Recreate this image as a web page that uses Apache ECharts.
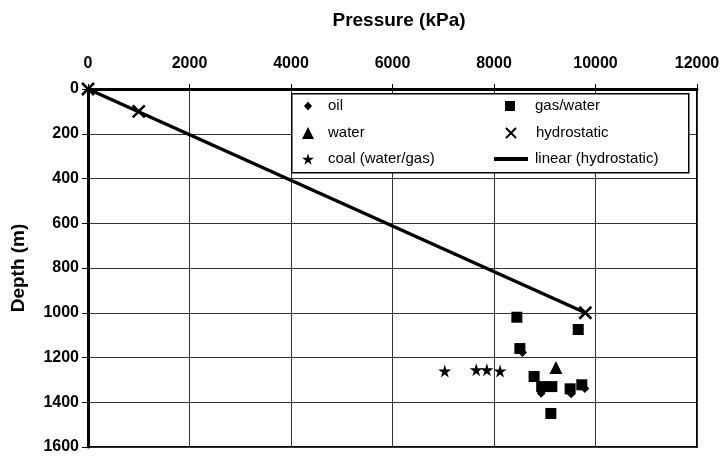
<!DOCTYPE html>
<html>
<head>
<meta charset="utf-8">
<script src="https://cdn.jsdelivr.net/npm/echarts@6/dist/echarts.min.js"></script>
<style>html,body{margin:0;padding:0;background:#fff;}#c{width:726px;height:459px;}</style>
</head>
<body>
<div id="c"></div>
<script>
const xTicks = [0, 2000, 4000, 6000, 8000, 10000, 12000];
const yTicks = [0, 200, 400, 600, 800, 1000, 1200, 1400, 1600];
const oil = [[8560, 1178], [8930, 1360], [9520, 1362], [9790, 1338]];
const gasWater = [[8450, 1020], [9660, 1075], [8510, 1160], [8790, 1285], [8940, 1330], [9140, 1330], [9500, 1340], [9730, 1322], [9120, 1450]];
const water = [[9220, 1245]];
const coal = [[7030, 1260], [7650, 1255], [7860, 1255], [8120, 1260]];
const hydrostatic = [[0, 0], [1000, 100], [9800, 1000]];
const linearHydro = [[0, 0], [9800, 1000]];

const STAR = 'path://M50,0L61,35L98,35L68,57L79,91L50,70L21,91L32,57L2,35L39,35Z';
const XMARK = 'path://M0,0L10,10M10,0L0,10';
const FONT = 'Liberation Sans';

function leg(name, icon, left, centerY, w, h, padLeft) {
  return {
    data: [{name: name, icon: icon}], left: left, top: centerY - 8, padding: 0,
    itemWidth: w, itemHeight: h, z: 60, selectedMode: false,
    textStyle: {fontFamily: FONT, fontSize: 15, color: '#000', lineHeight: 16, padding: [0, 0, 0, padLeft]}
  };
}

const chart = echarts.init(document.getElementById('c'));
chart.setOption({
  animation: false,
  backgroundColor: '#fff',
  title: {
    text: 'Pressure (kPa)', left: 394, top: 6, textAlign: 'center',
    textStyle: {fontFamily: FONT, fontWeight: 'bold', fontSize: 19, color: '#000'}
  },
  grid: {left: 88, right: 29, top: 89, bottom: 12, show: true, borderColor: '#000', borderWidth: 2, backgroundColor: 'transparent'},
  xAxis: {
    type: 'value', position: 'top', min: xTicks[0], max: xTicks[xTicks.length - 1], interval: 2000,
    axisLine: {show: true, lineStyle: {color: '#000', width: 3}},
    axisTick: {show: true, length: 5, lineStyle: {color: '#000'}},
    splitLine: {show: true, lineStyle: {color: '#333', width: 1}},
    axisLabel: {fontFamily: FONT, fontWeight: 'bold', fontSize: 16, color: '#000', margin: 17, formatter: v => String(v)}
  },
  yAxis: {
    type: 'value', inverse: true, min: yTicks[0], max: yTicks[yTicks.length - 1], interval: 200,
    name: 'Depth (m)', nameLocation: 'middle', nameGap: 60, nameRotate: 90,
    nameTextStyle: {fontFamily: FONT, fontWeight: 'bold', fontSize: 19, color: '#000'},
    axisLine: {show: true, lineStyle: {color: '#000', width: 3}},
    axisTick: {show: true, length: 6, lineStyle: {color: '#000'}},
    splitLine: {show: true, lineStyle: {color: '#333', width: 1}},
    axisLabel: {fontFamily: FONT, fontWeight: 'bold', fontSize: 16, color: '#000', margin: 9, formatter: v => String(v)}
  },
  graphic: [{
    type: 'rect', left: 291, top: 93, shape: {width: 397, height: 79},
    style: {fill: '#fff', stroke: '#000', lineWidth: 1.5}, z: 50
  }],
  legend: [
    leg('oil', 'diamond', 304, 106, 8, 9, 11),
    leg('water', 'triangle', 302, 133, 12, 12, 9),
    leg('coal (water/gas)', STAR, 302, 159, 12, 12, 9),
    leg('gas/water', 'rect', 505, 106, 10, 10, 15),
    leg('hydrostatic', XMARK, 505, 133, 10, 11, 15),
    leg('linear (hydrostatic)', 'rect', 494, 159, 34, 4, 2)
  ],
  series: [
    {name: 'linear (hydrostatic)', type: 'line', data: linearHydro, symbol: 'none', lineStyle: {color: '#000', width: 3.5}, itemStyle: {color: '#000'}, z: 3},
    {name: 'oil', type: 'scatter', data: oil, symbol: 'diamond', symbolSize: 9, itemStyle: {color: '#000', opacity: 1}},
    {name: 'gas/water', type: 'scatter', data: gasWater, symbol: 'rect', symbolSize: 11, itemStyle: {color: '#000', opacity: 1}},
    {name: 'water', type: 'scatter', data: water, symbol: 'triangle', symbolSize: 13, itemStyle: {color: '#000', opacity: 1}},
    {name: 'coal (water/gas)', type: 'scatter', data: coal, symbol: STAR, symbolSize: 13, itemStyle: {color: '#000', opacity: 1}},
    {name: 'hydrostatic', type: 'scatter', data: hydrostatic, symbol: XMARK, symbolSize: 12, itemStyle: {color: 'transparent', borderColor: '#000', borderWidth: 2.5, opacity: 1}, z: 4}
  ]
});
</script>
</body>
</html>
